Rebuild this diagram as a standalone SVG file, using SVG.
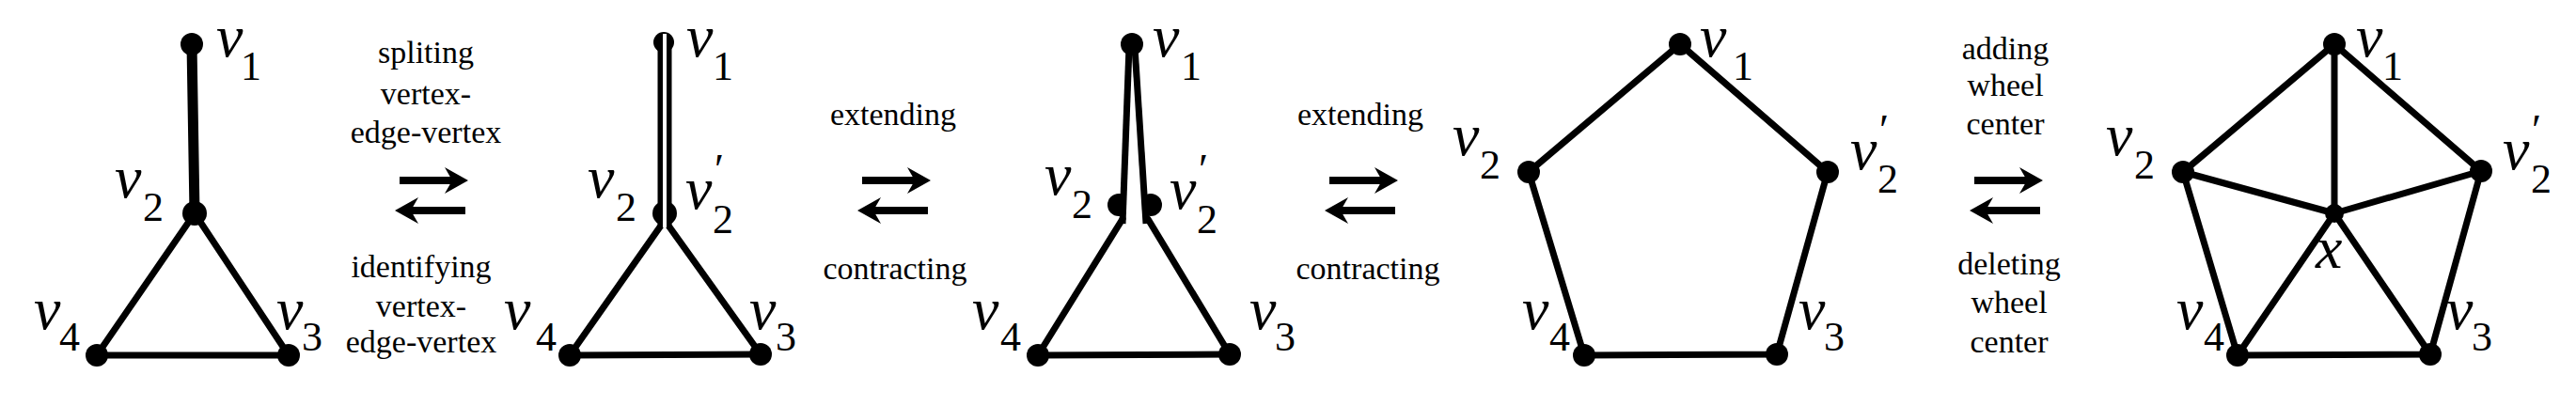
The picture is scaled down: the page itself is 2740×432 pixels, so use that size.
<svg xmlns="http://www.w3.org/2000/svg" xmlns:xlink="http://www.w3.org/1999/xlink" width="2740" height="432" viewBox="0 0 2740 432">
<style>
.e{stroke:#000;stroke-width:7;fill:none;stroke-linecap:round}
.d{fill:#000}
.v{font-family:"Liberation Serif","DejaVu Serif","Times New Roman",serif;font-style:italic;font-size:64px}
.s{font-family:"Liberation Serif","DejaVu Serif","Times New Roman",serif;font-size:44px}
.p{font-family:"Liberation Serif","DejaVu Serif","Times New Roman",serif;font-size:46px}
.t{font-family:"Liberation Serif","DejaVu Serif","Times New Roman",serif;font-size:34px;text-anchor:middle}
</style>
<defs>
<g id="arr">
<line x1="0" y1="0" x2="58" y2="0" stroke="#000" stroke-width="8"/>
<polygon points="48,-14 73,0 48,14 56,0" fill="#000"/>
<line x1="12" y1="32" x2="70" y2="32" stroke="#000" stroke-width="8"/>
<polygon points="-5,32 20,18 12,32 20,46" fill="#000"/>
</g>
</defs>
<rect width="2740" height="432" fill="#fff"/>
<g id="connectors">
<line class="e" x1="204" y1="47" x2="207" y2="227" style="stroke-width:11"/>
<line class="e" x1="207" y1="227" x2="103" y2="378"/>
<line class="e" x1="207" y1="227" x2="307" y2="378"/>
<line class="e" x1="103" y1="378" x2="307" y2="378"/>
<line class="e" x1="703" y1="240" x2="606" y2="378"/>
<line class="e" x1="711" y1="240" x2="809" y2="377"/>
<line class="e" x1="606" y1="378" x2="809" y2="377"/>
<line class="e" x1="1194" y1="233" x2="1104" y2="378"/>
<line class="e" x1="1221" y1="233" x2="1308" y2="377"/>
<line class="e" x1="1104" y1="378" x2="1308" y2="377"/>
<polyline class="e" points="1787,47 1944,183 1890,377 1685,378 1626,183 1787,47"/>
<polyline class="e" points="2483,47 2639,182 2585,377 2380,378 2322,183 2483,47"/>
<line class="e" x1="2483" y1="47" x2="2483" y2="227"/>
<line class="e" x1="2322" y1="183" x2="2483" y2="227"/>
<line class="e" x1="2639" y1="182" x2="2483" y2="227"/>
<line class="e" x1="2380" y1="378" x2="2483" y2="227"/>
<line class="e" x1="2585" y1="377" x2="2483" y2="227"/>
</g>
<g id="g1">
<circle class="d" cx="204" cy="47" r="12"/><circle class="d" cx="207" cy="227" r="13"/>
<circle class="d" cx="103" cy="378" r="12"/><circle class="d" cx="307" cy="378" r="12"/>
<text class="v" x="230" y="60">v</text><text class="s" x="256" y="85">1</text>
<text class="v" x="122" y="210">v</text><text class="s" x="152" y="235">2</text>
<text class="v" x="36" y="350">v</text><text class="s" x="63" y="373">4</text>
<text class="v" x="294" y="350">v</text><text class="s" x="321" y="373">3</text>
</g>
<g id="t1">
<text class="t" x="453" y="67">spliting</text><text class="t" x="453" y="111">vertex-</text><text class="t" x="453" y="152">edge-vertex</text>
<use xlink:href="#arr" x="425" y="192"/>
<text class="t" x="448" y="295">identifying</text><text class="t" x="448" y="337">vertex-</text><text class="t" x="448" y="375">edge-vertex</text>
</g>
<g id="g2">
<circle class="d" cx="706" cy="45" r="11"/>
<circle class="d" cx="707" cy="227" r="13"/>
<line x1="707" y1="45" x2="707" y2="242" stroke="#000" stroke-width="15"/>
<line x1="707" y1="36" x2="707" y2="242" stroke="#fff" stroke-width="4"/>
<circle class="d" cx="606" cy="378" r="12"/><circle class="d" cx="809" cy="377" r="12"/>
<text class="v" x="730" y="60">v</text><text class="s" x="758" y="85">1</text>
<text class="v" x="625" y="210">v</text><text class="s" x="655" y="235">2</text>
<text class="v" x="729" y="222">v</text><text class="p" x="760" y="196">′</text><text class="s" x="758" y="248">2</text>
<text class="v" x="536" y="350">v</text><text class="s" x="570" y="373">4</text>
<text class="v" x="797" y="350">v</text><text class="s" x="825" y="373">3</text>
</g>
<g id="t2">
<text class="t" x="950" y="133">extending</text>
<use xlink:href="#arr" x="917" y="192"/>
<text class="t" x="952" y="297">contracting</text>
</g>
<g id="g3">
<circle class="d" cx="1204" cy="47" r="12"/>
<circle class="d" cx="1190" cy="218" r="12"/><circle class="d" cx="1224" cy="218" r="12"/>
<rect x="1198" y="195" width="18" height="50" fill="#fff"/>
<line x1="1201" y1="50" x2="1194" y2="238" stroke="#000" stroke-width="7"/>
<line x1="1207" y1="50" x2="1219" y2="238" stroke="#000" stroke-width="7"/>
<circle class="d" cx="1104" cy="378" r="12"/><circle class="d" cx="1308" cy="377" r="12"/>
<text class="v" x="1226" y="60">v</text><text class="s" x="1256" y="85">1</text>
<text class="v" x="1111" y="207">v</text><text class="s" x="1140" y="232">2</text>
<text class="v" x="1244" y="222">v</text><text class="p" x="1275" y="196">′</text><text class="s" x="1273" y="248">2</text>
<text class="v" x="1034" y="350">v</text><text class="s" x="1064" y="373">4</text>
<text class="v" x="1329" y="350">v</text><text class="s" x="1356" y="373">3</text>
</g>
<g id="t3">
<text class="t" x="1447" y="133">extending</text>
<use xlink:href="#arr" x="1414" y="192"/>
<text class="t" x="1455" y="297">contracting</text>
</g>
<g id="g4">
<circle class="d" cx="1787" cy="47" r="12"/><circle class="d" cx="1944" cy="183" r="12"/>
<circle class="d" cx="1626" cy="183" r="12"/><circle class="d" cx="1685" cy="378" r="12"/>
<circle class="d" cx="1890" cy="377" r="12"/>
<text class="v" x="1808" y="60">v</text><text class="s" x="1843" y="85">1</text>
<text class="v" x="1545" y="165">v</text><text class="s" x="1574" y="190">2</text>
<text class="v" x="1968" y="180">v</text><text class="p" x="1999" y="154">′</text><text class="s" x="1997" y="205">2</text>
<text class="v" x="1619" y="350">v</text><text class="s" x="1648" y="373">4</text>
<text class="v" x="1913" y="350">v</text><text class="s" x="1940" y="373">3</text>
</g>
<g id="t4">
<text class="t" x="2133" y="63">adding</text><text class="t" x="2133" y="102">wheel</text><text class="t" x="2133" y="143">center</text>
<use xlink:href="#arr" x="2100" y="192"/>
<text class="t" x="2137" y="292">deleting</text><text class="t" x="2137" y="333">wheel</text><text class="t" x="2137" y="375">center</text>
</g>
<g id="g5">
<circle class="d" cx="2483" cy="47" r="12"/><circle class="d" cx="2322" cy="183" r="12"/>
<circle class="d" cx="2639" cy="182" r="12"/><circle class="d" cx="2483" cy="227" r="10"/>
<circle class="d" cx="2380" cy="378" r="12"/><circle class="d" cx="2585" cy="377" r="12"/>
<text class="v" x="2506" y="60">v</text><text class="s" x="2534" y="85">1</text>
<text class="v" x="2240" y="165">v</text><text class="s" x="2270" y="190">2</text>
<text class="v" x="2662" y="180">v</text><text class="p" x="2693" y="154">′</text><text class="s" x="2692" y="205">2</text>
<text class="v" x="2463" y="285">x</text>
<text class="v" x="2315" y="350">v</text><text class="s" x="2344" y="373">4</text>
<text class="v" x="2602" y="350">v</text><text class="s" x="2629" y="373">3</text>
</g>
</svg>
